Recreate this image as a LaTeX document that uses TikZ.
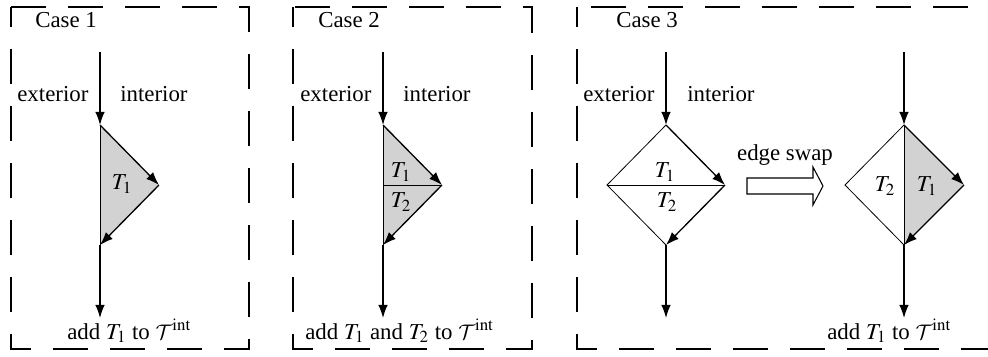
\documentclass[tikz,border=0pt]{standalone}
\usepackage{mathptmx}
\DeclareMathAlphabet{\mathcal}{OMS}{cmsy}{m}{n}
\usepackage[no-math]{fontspec}
\setmainfont{Liberation Serif}
\usetikzlibrary{arrows.meta,positioning}

\begin{document}
\begin{tikzpicture}[x=0.02cm,y=-0.02cm,
  font=\fontsize{13pt}{15pt}\selectfont,
  every node/.style={inner sep=0pt},
  casebox/.style={draw, line width=0.9pt, dash pattern=on 0.7cm off 0.44cm, dash phase=0.3cm},
  flow/.style={line width=0.75pt, -{Latex[length=7.5pt,width=5.5pt]}},
  side/.style={line width=0.45pt},
  inside/.style={fill=gray!35}
]
\useasboundingbox (0,0) rectangle (988,356);

% -------- Case 1 --------
\draw[casebox] (11,7) rectangle (249,349);
\node[anchor=base west] (case1) at (35,27) {Case 1};
\node[anchor=base west] (ext1) at (17,101) {exterior};
\node[anchor=base west] (int1) at (120,101) {interior};

\coordinate (s1) at (100,52);
\coordinate (a1) at (100,125);
\coordinate (b1) at (159,185);
\coordinate (c1) at (100,245);
\coordinate (e1) at (100,318);

\fill[inside] (a1) -- (b1) -- (c1) -- cycle;
\draw[side] (a1) -- (c1);
\draw[flow] (s1) -- (a1);
\draw[flow] (a1) -- (b1);
\draw[flow] (b1) -- (c1);
\draw[flow] (c1) -- (e1);
\node (t11) at (122,184) {$T_1$};
\node[anchor=base west] (add1) at (67,339) {add $T_1$ to $\mathcal{T}^{\mathrm{int}}$};

% -------- Case 2 --------
\draw[casebox] (293,7) rectangle (532,349);
\node[anchor=base west] (case2) at (318,27) {Case 2};
\node[anchor=base west] (ext2) at (300,101) {exterior};
\node[anchor=base west] (int2) at (403,101) {interior};

\coordinate (s2) at (383,52);
\coordinate (a2) at (383,125);
\coordinate (b2) at (442,185);
\coordinate (m2) at (383,185);
\coordinate (c2) at (383,245);
\coordinate (e2) at (383,318);

\fill[inside] (a2) -- (b2) -- (c2) -- cycle;
\draw[side] (a2) -- (c2);
\draw[side] (m2) -- (b2);
\draw[flow] (s2) -- (a2);
\draw[flow] (a2) -- (b2);
\draw[flow] (b2) -- (c2);
\draw[flow] (c2) -- (e2);
\node (t21) at (401,172) {$T_1$};
\node (t22) at (401,202) {$T_2$};
\node[anchor=base west] (add2) at (305,339) {add $T_1$ and $T_2$ to $\mathcal{T}^{\mathrm{int}}$};

% -------- Case 3 --------
\draw[casebox] (577,7) rectangle (993,349);
\node[anchor=base west] (case3) at (616,27) {Case 3};
\node[anchor=base west] (ext3) at (583,101) {exterior};
\node[anchor=base west] (int3) at (687,101) {interior};

% before the swap
\coordinate (s3) at (666,52);
\coordinate (a3) at (666,125);
\coordinate (l3) at (607,185);
\coordinate (b3) at (725,185);
\coordinate (c3) at (666,245);
\coordinate (e3) at (666,318);

\draw[side] (a3) -- (l3) -- (c3);
\draw[side] (l3) -- (b3);
\draw[flow] (s3) -- (a3);
\draw[flow] (a3) -- (b3);
\draw[flow] (b3) -- (c3);
\draw[flow] (c3) -- (e3);
\node (t31) at (665,172) {$T_1$};
\node (t32) at (667,202) {$T_2$};

% edge swap arrow
\draw[line width=0.6pt, fill=white] (747,178) -- (813,178) -- (813,167) -- (823,186)
  -- (813,205) -- (813,194) -- (747,194) -- cycle;
\node[anchor=base] (swap) at (785,160) {edge swap};

% after the swap
\coordinate (s4) at (904,52);
\coordinate (a4) at (904,125);
\coordinate (l4) at (845,185);
\coordinate (b4) at (964,185);
\coordinate (c4) at (904,245);
\coordinate (e4) at (904,318);

\fill[inside] (a4) -- (b4) -- (c4) -- cycle;
\draw[side] (a4) -- (l4) -- (c4);
\draw[side] (a4) -- (c4);
\draw[flow] (s4) -- (a4);
\draw[flow] (a4) -- (b4);
\draw[flow] (b4) -- (c4);
\draw[flow] (c4) -- (e4);
\node (t42) at (885,186) {$T_2$};
\node (t41) at (927,186) {$T_1$};
\node[anchor=base west] (add3) at (827,339) {add $T_1$ to $\mathcal{T}^{\mathrm{int}}$};

\end{tikzpicture}
\end{document}
